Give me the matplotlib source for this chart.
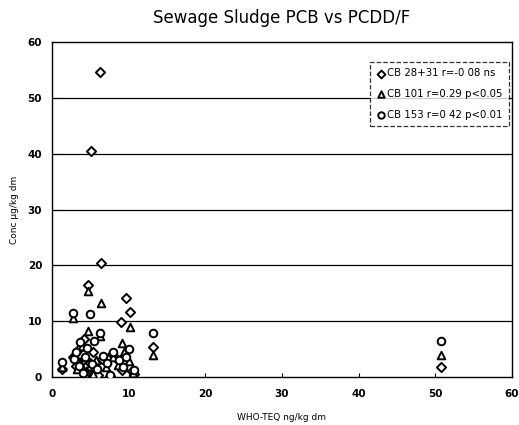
import matplotlib
matplotlib.use("Agg")
import matplotlib.pyplot as plt

# CB 28+31 (diamonds)
cb28_x = [1.3, 2.7, 3.2, 3.5, 3.8, 4.0, 4.2, 4.5, 4.65, 5.0, 5.1, 5.3, 5.6, 6.0,
          6.3, 6.4, 6.5, 7.6, 7.8, 8.6, 9.0, 9.2, 9.65, 10.2, 10.5, 10.7, 13.2, 50.7]
cb28_y = [1.5, 3.5, 2.0, 5.0, 1.2, 3.0, 6.8, 0.5, 16.5, 2.5, 40.5, 4.5, 1.0, 0.4,
          54.6, 20.5, 3.2, 0.2, 4.2, 3.0, 9.9, 1.2, 14.2, 11.6, 1.0, 0.6, 5.4, 1.85]

# CB 101 (triangles)
cb101_x = [1.3, 2.7, 3.0, 3.3, 3.6, 3.9, 4.2, 4.5, 4.65, 4.65, 5.0, 5.4, 5.8,
           6.3, 6.4, 7.0, 7.6, 8.0, 8.6, 9.1, 9.4, 10.2, 10.0, 10.6, 13.2, 50.7]
cb101_y = [1.7, 10.5, 4.0, 1.5, 2.5, 5.5, 3.5, 1.0, 8.2, 15.4, 2.0, 0.5, 3.0,
           7.4, 13.2, 1.8, 0.3, 3.5, 2.2, 6.0, 4.5, 9.0, 2.8, 0.8, 3.9, 3.9]

# CB 153 (circles)
cb153_x = [1.3, 2.7, 2.9, 3.2, 3.5, 3.7, 4.0, 4.3, 4.6, 4.95, 5.2, 5.5, 5.9,
           6.3, 6.6, 7.2, 7.6, 8.0, 8.8, 9.3, 9.6, 10.0, 10.7, 13.2, 50.7]
cb153_y = [2.7, 11.4, 3.2, 4.5, 2.0, 6.2, 0.8, 3.5, 5.2, 11.25, 2.3, 6.5, 1.5,
           7.9, 3.8, 2.5, 0.4, 4.5, 3.0, 1.8, 3.5, 5.0, 1.2, 7.8, 6.45]

labels = ["CB 28+31 r=-0 08 ns", "CB 101 r=0.29 p<0.05", "CB 153 r=0 42 p<0.01"]

fig = plt.figure(figsize=(5.19, 4.25), dpi=100)
ax = fig.add_axes([0.100, 0.113, 0.8865, 0.788])

kw = dict(facecolor="white", edgecolor="black", linewidths=1.4, s=30, zorder=3)
ax.scatter(cb28_x, cb28_y, marker="D", label=labels[0], **dict(kw, s=22))
ax.scatter(cb101_x, cb101_y, marker="^", label=labels[1], **kw)
ax.scatter(cb153_x, cb153_y, marker="o", label=labels[2], **kw)

ax.set_xlim(0, 60)
ax.set_ylim(0, 60)
ax.set_xticks(range(0, 61, 10))
ax.set_yticks(range(0, 61, 10))
for v in range(10, 60, 10):
    ax.axhline(v, color="black", linewidth=0.9, zorder=1)
for s in ax.spines.values():
    s.set_linewidth(1.0)
ax.tick_params(axis="both", labelsize=7.5, length=3, width=0.8, direction="in")
ax.tick_params(axis="x", pad=9)
ax.tick_params(axis="y", pad=7)
for t in ax.get_xticklabels() + ax.get_yticklabels():
    t.set_fontweight("bold")

ax.set_xlabel("WHO-TEQ ng/kg dm", fontsize=6.5, labelpad=10)
ax.set_ylabel("Conc \u00b5g/kg dm", fontsize=6.5, labelpad=6)
ax.set_title("Sewage Sludge PCB vs PCDD/F", fontsize=12, pad=14)

leg = ax.legend(loc="upper right", bbox_to_anchor=(0.993, 0.94), fontsize=7.3,
                frameon=True, fancybox=False, edgecolor="black", handletextpad=0.2,
                handlelength=0.9, borderpad=0.6, labelspacing=1.05, markerscale=0.85,
                borderaxespad=0)
leg.get_frame().set_linestyle("--")
leg.get_frame().set_linewidth(0.9)

fig.savefig("out.png", dpi=100)
